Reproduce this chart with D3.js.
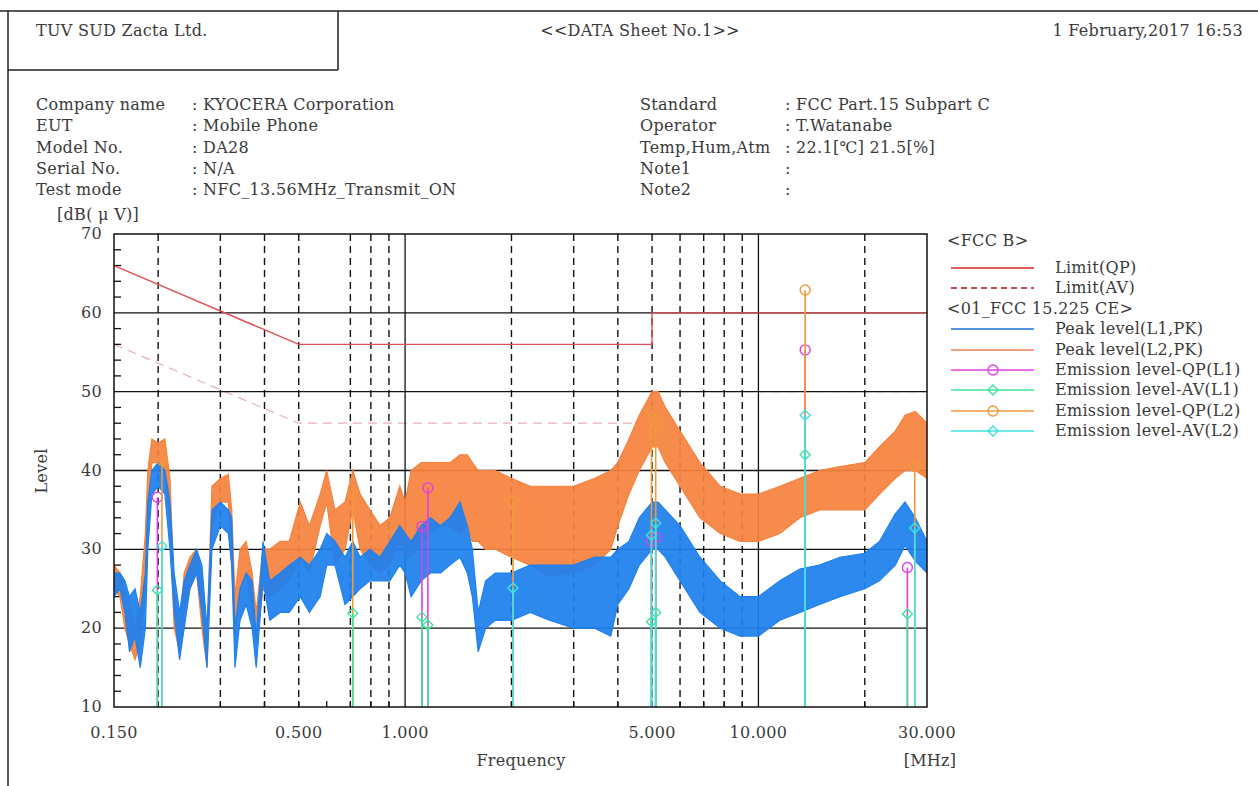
<!DOCTYPE html>
<html>
<head>
<meta charset="utf-8">
<script src="https://cdn.jsdelivr.net/npm/d3@7"></script>
<style>
  body { margin: 0; background: #fff; }
  text { font-family: "DejaVu Serif", "Liberation Serif", serif; fill: #3a3a3a; font-size: 16px; letter-spacing: 0.3px; }
</style>
</head>
<body>
<div id="chart"></div>
<script>
const traceFreq = [0.150, 0.156, 0.161, 0.166, 0.172, 0.178, 0.184, 0.187, 0.192, 0.200, 0.209, 0.216,
  0.222, 0.230, 0.237, 0.246, 0.257, 0.266, 0.275, 0.284, 0.300, 0.316, 0.323, 0.330, 0.341, 0.355,
  0.369, 0.379, 0.396, 0.414, 0.443, 0.470, 0.505, 0.536, 0.575, 0.600, 0.633, 0.676, 0.711, 0.746,
  0.795, 0.849, 0.905, 0.966, 1.00, 1.04, 1.11, 1.18, 1.26, 1.34, 1.43, 1.50, 1.55, 1.61, 1.69, 1.80,
  2.00, 2.26, 2.56, 3.00, 3.44, 3.82, 4.00, 4.30, 4.60, 5.00, 5.20, 5.45, 6.00, 6.83, 7.80, 8.87,
  10.0, 11.5, 13.1, 14.9, 17.0, 20.0, 22.0, 24.4, 26.0, 27.8, 30.0];

// Peak level L1 (blue) - lower / upper edge of the noisy trace, dB(uV)
const peakL1Lo = [24, 25, 22, 17, 19, 15, 20, 30, 37, 38, 37, 30,
  22, 16, 20, 25, 27, 22, 15, 30, 33, 32, 28, 15, 21, 23,
  20, 15, 26, 21, 22, 22, 24, 22, 24, 28, 28, 23, 24, 25,
  26, 26, 26, 28, 27, 24, 26, 27, 27, 28, 29, 27, 24, 17, 20, 21,
  21, 22, 21, 20, 20, 19, 23, 25, 28, 30, 30, 29, 26, 22, 20, 19,
  19, 21, 22, 23, 24, 25, 26, 28, 30.5, 28.5, 27];
const peakL1Hi = [27, 27, 26, 24, 25, 22, 27, 36, 40, 41, 40, 36,
  27, 22, 26, 28, 30, 28, 20, 35, 36, 35, 34, 20, 25, 27,
  26, 19, 31, 26, 27, 28, 29, 28, 30, 32, 31, 29, 31, 29,
  30, 29, 31, 33, 32, 31, 33, 34, 33, 34, 36, 33, 30, 22, 26, 27,
  27, 28, 28, 28, 29, 29, 30, 31, 34, 36, 36, 35, 33, 29, 26, 24,
  24, 26, 27.5, 28, 29, 29.5, 31, 34.5, 36, 34, 31];

// Peak level L2 (orange)
const peakL2Lo = [25, 24, 20, 18, 16, 18, 25, 34, 41, 41, 40, 33,
  20, 17, 22, 25, 27, 20, 15, 33, 36, 36, 28, 19, 25, 27,
  22, 18, 25, 24, 25, 26, 29, 27, 33, 36, 28, 30, 35, 30,
  28, 27, 28, 31, 29, 29, 31, 32, 33, 33, 32, 33, 31, 31, 30, 30,
  29, 28, 26.5, 27, 28, 30, 33, 37, 40, 43, 43, 41, 38, 34, 32, 31,
  31, 32, 34, 35, 35, 35, 37, 39, 40, 40, 39];
const peakL2Hi = [28, 27, 25, 23, 20, 24, 32, 40, 44, 43.5, 44, 39,
  25, 20, 27, 29, 30, 26, 19, 38, 39, 39.5, 35, 24, 30, 31,
  27, 22, 30, 30, 31, 31, 36, 33, 37, 40, 35, 36, 40, 37,
  35, 33, 34, 38, 36, 40, 41, 41, 41, 41, 42, 42, 41, 40, 40, 40,
  39, 38, 38, 38, 39, 40, 41, 44, 47, 50, 50, 48, 45, 41, 38, 37,
  37, 38, 39, 40, 40.5, 41, 43, 45, 47, 47.5, 46];

// Final measurements
const qpL1Freq = [0.199, 1.116, 1.16, 4.98, 5.12, 13.56, 26.4];
const qpL1Val = [36.6, 32.9, 37.8, 31.0, 31.5, 55.3, 27.7];
const avL1Freq = [0.199, 0.711, 1.116, 1.16, 4.98, 5.12, 13.56, 26.4];
const avL1Val = [24.8, 21.9, 21.4, 20.4, 20.8, 22.0, 42.0, 21.8];
const qpL2Freq = [0.205, 0.711, 2.02, 4.98, 5.12, 13.56, 27.7];
const qpL2Val = [41.3, 37.0, 36.0, 47.5, 46.0, 62.9, 40.5];
const avL2Freq = [0.205, 2.02, 4.98, 5.12, 13.56, 27.7];
const avL2Val = [30.4, 25.1, 31.8, 33.3, 47.0, 32.7];

// FCC class B limits
const limitFreq = [0.15, 0.5, 5, 5, 30];
const limitQP = [66, 56, 56, 60, 60];
const limitAV = [56, 46, 46, 50, 50];

// Axes
const levelTicks = [10, 20, 30, 40, 50, 60, 70];
const freqLabels = [0.15, 0.5, 1, 5, 10, 30];
const dashedFreq = [0.2, 0.3, 0.4, 0.5, 0.7, 0.8, 0.9, 2, 3, 4, 5, 6, 7, 8, 9, 20];
const minorFreq = [0.2, 0.3, 0.4, 0.5, 0.6, 0.7, 0.8, 0.9, 2, 3, 4, 5, 6, 7, 8, 9, 20];

const W = 1258, H = 786;
const plot = { left: 114, right: 927, top: 234, bottom: 707 };

const svg = d3.select("#chart").append("svg")
  .attr("width", W).attr("height", H);

svg.append("rect").attr("width", W).attr("height", H).attr("fill", "#fff");

// header frame
svg.append("path")
  .attr("d", "M0,11H1258M8,11V786M338,11V70M8,70H338")
  .attr("stroke", "#222").attr("stroke-width", 1.5).attr("fill", "none");

svg.append("text").attr("x", 36).attr("y", 36).text("TUV SUD Zacta Ltd.");
svg.append("text").attr("x", 640).attr("y", 36).attr("text-anchor", "middle").text("<<DATA Sheet No.1>>");
svg.append("text").attr("x", 1243).attr("y", 36).attr("text-anchor", "end").text("1 February,2017 16:53");

// info block
const infoLeft = [["Company name", ": KYOCERA Corporation"], ["EUT", ": Mobile Phone"],
  ["Model No.", ": DA28"], ["Serial No.", ": N/A"], ["Test mode", ": NFC_13.56MHz_Transmit_ON"]];
const infoRight = [["Standard", ": FCC Part.15 Subpart C"], ["Operator", ": T.Watanabe"],
  ["Temp,Hum,Atm", ": 22.1[℃] 21.5[%]"], ["Note1", ":"], ["Note2", ":"]];
infoLeft.forEach((r, i) => {
  svg.append("text").attr("x", 36).attr("y", 110 + i * 21.3).text(r[0]);
  svg.append("text").attr("x", 192).attr("y", 110 + i * 21.3).text(r[1]);
});
infoRight.forEach((r, i) => {
  svg.append("text").attr("x", 640).attr("y", 110 + i * 21.3).text(r[0]);
  svg.append("text").attr("x", 785).attr("y", 110 + i * 21.3).text(r[1]);
});

// scales
const x = d3.scaleLog().domain([0.15, 30]).range([plot.left, plot.right]);
const y = d3.scaleLinear().domain([10, 70]).range([plot.bottom, plot.top]);

const g = svg.append("g");
svg.append("clipPath").attr("id", "clip").append("rect")
  .attr("x", plot.left).attr("y", plot.top)
  .attr("width", plot.right - plot.left).attr("height", plot.bottom - plot.top);

// AV limit sits under the grid
const limitLine = d3.line().x(d => x(d[0])).y(d => y(d[1]));
g.append("path")
  .attr("d", limitLine(limitFreq.map((f, i) => [f, limitAV[i]])))
  .attr("fill", "none").attr("stroke", "#e8b0b8").attr("stroke-width", 1.2)
  .attr("stroke-dasharray", "9,6");

// grid
g.selectAll(".hgrid").data([20, 30, 40, 50, 60]).enter().append("line")
  .attr("x1", plot.left).attr("x2", plot.right)
  .attr("y1", d => y(d)).attr("y2", d => y(d))
  .attr("stroke", "#111").attr("stroke-width", 1.3);
g.selectAll(".vgrid").data([1, 10]).enter().append("line")
  .attr("x1", d => x(d)).attr("x2", d => x(d))
  .attr("y1", plot.top).attr("y2", plot.bottom)
  .attr("stroke", "#111").attr("stroke-width", 1.3);
g.selectAll(".dgrid").data(dashedFreq).enter().append("line")
  .attr("x1", d => x(d)).attr("x2", d => x(d))
  .attr("y1", plot.top).attr("y2", plot.bottom)
  .attr("stroke", "#111").attr("stroke-width", 1.4)
  .attr("stroke-dasharray", "7,5");

// minor ticks
g.selectAll(".ytick").data(d3.range(12, 70, 2).filter(v => v % 10 !== 0)).enter().append("line")
  .attr("x1", plot.left).attr("x2", plot.left + 7)
  .attr("y1", d => y(d)).attr("y2", d => y(d))
  .attr("stroke", "#111").attr("stroke-width", 1.3);
g.selectAll(".xtick").data(minorFreq).enter().append("line")
  .attr("x1", d => x(d)).attr("x2", d => x(d))
  .attr("y1", plot.bottom).attr("y2", plot.bottom - 6)
  .attr("stroke", "#111").attr("stroke-width", 1.3);

// peak traces
const traces = g.append("g").attr("clip-path", "url(#clip)");
const band = (lo, hi) => d3.area()
  .x((d, i) => x(traceFreq[i]))
  .y0((d, i) => y(lo[i]))
  .y1((d, i) => y(hi[i]))(traceFreq);

traces.append("path").attr("d", band(peakL2Lo, peakL2Hi))
  .attr("fill", "#f5823e").attr("fill-opacity", 0.93)
  .attr("stroke", "#f5823e").attr("stroke-width", 1.2);
traces.append("path").attr("d", band(peakL1Lo, peakL1Hi))
  .attr("fill", "#1e80ee").attr("fill-opacity", 0.93)
  .attr("stroke", "#1e80ee").attr("stroke-width", 1.2);

// QP limit
g.append("path")
  .attr("d", limitLine(limitFreq.map((f, i) => [f, limitQP[i]])))
  .attr("fill", "none").attr("stroke", "#e05058").attr("stroke-width", 1.4);

// emission levels: stem + marker
const series = [
  { f: qpL1Freq, v: qpL1Val, color: "#e040e0", shape: "circle" },
  { f: qpL2Freq, v: qpL2Val, color: "#f09a3a", shape: "circle" },
  { f: avL1Freq, v: avL1Val, color: "#3ee49a", shape: "diamond" },
  { f: avL2Freq, v: avL2Val, color: "#3ee2e0", shape: "diamond" }
];
function marker(sel, shape, color) {
  if (shape === "circle") {
    sel.append("circle").attr("r", 5).attr("fill", "none")
      .attr("stroke", color).attr("stroke-width", 1.4);
  } else {
    sel.append("path").attr("d", "M0,-5L5,0L0,5L-5,0Z").attr("fill", "none")
      .attr("stroke", color).attr("stroke-width", 1.4);
  }
}
series.forEach(s => {
  const pts = s.f.map((f, i) => ({ f: f, v: s.v[i] }));
  g.append("g").selectAll("line").data(pts).enter().append("line")
    .attr("x1", d => x(d.f)).attr("x2", d => x(d.f))
    .attr("y1", plot.bottom).attr("y2", d => y(d.v))
    .attr("stroke", s.color).attr("stroke-width", 1.6);
  pts.forEach(d => {
    const m = g.append("g").attr("transform", `translate(${x(d.f)},${y(d.v)})`);
    marker(m, s.shape, s.color);
  });
});

// frame
g.append("rect")
  .attr("x", plot.left).attr("y", plot.top)
  .attr("width", plot.right - plot.left).attr("height", plot.bottom - plot.top)
  .attr("fill", "none").attr("stroke", "#111").attr("stroke-width", 1.5);

// axis labels
svg.selectAll(".ylab").data(levelTicks).enter().append("text")
  .attr("x", 102).attr("y", d => y(d) + 5).attr("text-anchor", "end").text(d => d);
svg.selectAll(".xlab").data(freqLabels).enter().append("text")
  .attr("x", d => x(d)).attr("y", 738).attr("text-anchor", "middle")
  .text(d => d3.format(".3f")(d));
svg.append("text").attr("x", 57).attr("y", 220).text("[dB( μ V)]");
svg.append("text").attr("x", 521).attr("y", 766).attr("text-anchor", "middle").text("Frequency");
svg.append("text").attr("x", 930).attr("y", 766).attr("text-anchor", "middle").text("[MHz]");
svg.append("text").attr("transform", "translate(47,471) rotate(-90)")
  .attr("text-anchor", "middle").text("Level");

// legend
const lg = svg.append("g");
lg.append("text").attr("x", 947).attr("y", 246).text("<FCC B>");
lg.append("text").attr("x", 947).attr("y", 314).text("<01_FCC 15.225 CE>");
const legendRows = [
  { y: 268, label: "Limit(QP)", color: "#d42a2a", dash: null, shape: null },
  { y: 288, label: "Limit(AV)", color: "#a01420", dash: "6,4", shape: null },
  { y: 329, label: "Peak level(L1,PK)", color: "#1e70d8", dash: null, shape: null },
  { y: 350, label: "Peak level(L2,PK)", color: "#e88050", dash: null, shape: null },
  { y: 370, label: "Emission level-QP(L1)", color: "#e040e0", dash: null, shape: "circle" },
  { y: 390, label: "Emission level-AV(L1)", color: "#3ee49a", dash: null, shape: "diamond" },
  { y: 411, label: "Emission level-QP(L2)", color: "#f09a3a", dash: null, shape: "circle" },
  { y: 431, label: "Emission level-AV(L2)", color: "#3ee2e0", dash: null, shape: "diamond" }
];
legendRows.forEach(r => {
  lg.append("line").attr("x1", 951).attr("x2", 1034).attr("y1", r.y).attr("y2", r.y)
    .attr("stroke", r.color).attr("stroke-width", 1.6)
    .attr("stroke-dasharray", r.dash);
  if (r.shape) marker(lg.append("g").attr("transform", `translate(993,${r.y})`), r.shape, r.color);
  lg.append("text").attr("x", 1055).attr("y", r.y + 5).text(r.label);
});
</script>
</body>
</html>
